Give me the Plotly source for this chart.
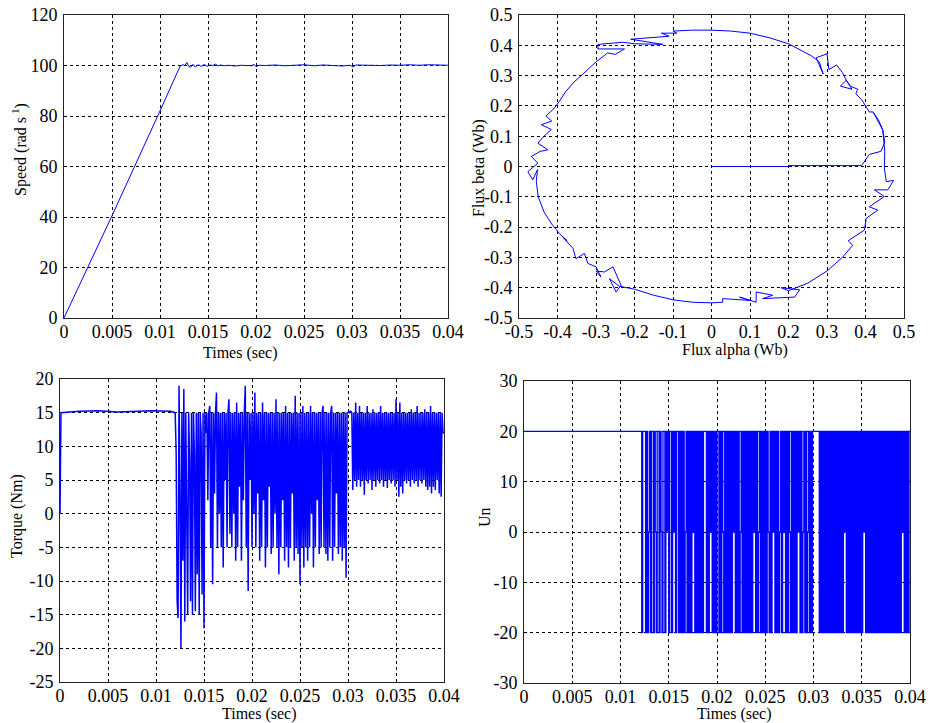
import numpy as np
import plotly.graph_objects as go

# ---------------- data ----------------
# Speed (rad/s) vs time
speed_t = [0, 0.005, 0.010, 0.0121, 0.0124, 0.0126, 0.0128, 0.0130, 0.0132, 0.0134,
           0.0137, 0.0140, 0.0143, 0.0146, 0.0149, 0.0152, 0.0155, 0.0158, 0.0160, 0.0163,
           0.0167, 0.0172, 0.0178, 0.0185, 0.0190, 0.0195, 0.0198, 0.0200, 0.0203, 0.0210,
           0.0220, 0.0230, 0.0240, 0.0250, 0.0260, 0.0270, 0.0280, 0.0290, 0.0298, 0.0301,
           0.0304, 0.0310, 0.0320, 0.0330, 0.0340, 0.0350, 0.0360, 0.0370, 0.0380, 0.0390,
           0.0400]
speed_v = [0, 40.5, 82, 99.8, 100.3, 100.0, 101.2, 99.6, 99.3, 100.4,
           99.5, 100.3, 99.6, 100.4, 99.7, 100.2, 100.0, 100.6, 99.8, 100.2,
           99.9, 100.1, 99.8, 100.1, 100.0, 99.9, 100.4, 99.5, 100.1, 100.0,
           100.2, 99.9, 100.1, 100.3, 99.9, 100.2, 100.0, 99.8, 100.1, 99.4,
           100.2, 100.1, 100.2, 100.0, 100.2, 100.1, 100.3, 100.1, 100.3, 100.2,
           100.1]

# Stator flux locus (alpha, beta) in Wb
flux_alpha = [0, 0.2, 0.2, 0.39, 0.41, 0.44,
              0.45, 0.445, 0.435, 0.42, 0.41, 0.395, 0.39, 0.375, 0.38, 0.36, 0.35, 0.365,
              0.335, 0.35, 0.34, 0.325, 0.305, 0.30, 0.272, 0.29, 0.28, 0.26, 0.2, 0.15,
              0.1, 0.05, 0, -0.05, -0.1, -0.09, -0.13, -0.11, -0.16, -0.21,
              -0.126, -0.2, -0.23, -0.295, -0.295, -0.226, -0.25, -0.27, -0.3, -0.33,
              -0.36, -0.38, -0.395, -0.41, -0.43, -0.415, -0.442, -0.416, -0.435, -0.451,
              -0.425, -0.445, -0.468, -0.451, -0.477, -0.464, -0.452, -0.455, -0.45, -0.435,
              -0.415, -0.395, -0.375, -0.385, -0.36, -0.352, -0.33, -0.321, -0.3, -0.287,
              -0.3, -0.278, -0.256, -0.235, -0.248, -0.265, -0.24, -0.2, -0.15, -0.1,
              -0.05, 0, 0.029, 0.029, 0.099, 0.073, 0.116, 0.116, 0.159, 0.133,
              0.216, 0.229, 0.181, 0.2, 0.25, 0.3, 0.34, 0.367, 0.355, 0.397,
              0.402, 0.432, 0.41, 0.449, 0.423, 0.458, 0.473, 0.454, 0.449, 0.45,
              0.445, 0.42]
flux_beta = [0, 0, 0.003, 0.003, 0.04, 0.05,
             0.08, 0.12, 0.15, 0.18, 0.18, 0.21, 0.22, 0.24, 0.255, 0.265, 0.285, 0.255,
             0.265, 0.285, 0.31, 0.335, 0.32, 0.372, 0.359, 0.305, 0.345, 0.365, 0.405, 0.425,
             0.44, 0.447, 0.45, 0.45, 0.447, 0.44, 0.44, 0.43, 0.425, 0.42,
             0.403, 0.405, 0.41, 0.403, 0.388, 0.388, 0.37, 0.375, 0.345, 0.31,
             0.275, 0.245, 0.215, 0.19, 0.167, 0.15, 0.138, 0.122, 0.1, 0.077,
             0.055, 0.05, 0.033, 0.011, -0.017, -0.044, -0.01, -0.05, -0.1, -0.15,
             -0.19, -0.221, -0.245, -0.235, -0.27, -0.304, -0.287, -0.32, -0.331, -0.365,
             -0.345, -0.348, -0.331, -0.392, -0.414, -0.37, -0.395, -0.405, -0.425, -0.44,
             -0.448, -0.45, -0.448, -0.436, -0.442, -0.431, -0.448, -0.414, -0.425, -0.436,
             -0.431, -0.407, -0.4, -0.41, -0.385, -0.345, -0.3, -0.26, -0.245, -0.21,
             -0.171, -0.144, -0.133, -0.099, -0.077, -0.077, -0.046, -0.05, -0.006, 0.05,
             0.12, 0.18]

# Electromagnetic torque (Nm): start-up part, then samples every 0.1 ms from 12 ms
torque_start_t = [0, 0.0001, 0.002, 0.004, 0.006, 0.0095, 0.0115, 0.0119]
torque_start_v = [0, 15, 15.2, 15.3, 15.1, 15.3, 15.2, 15]
sample_period = 1e-4
torque_sample_t0 = 0.012
torque_samples = [
    15, 9, -13, -15.5, 19, 2, -20, 15, -7, 18.5,        # 12 ms
    -16, 15, -3, -15, 15, 8, -13, 15, -15, 15,          # 13 ms
    9, -14.5, 15, -9, 15, -15, 15, 12, -12, 15,         # 14 ms
    -17, 15, 12, 15, 2, 15, 16, -5, 15, -10.5,          # 15 ms
    15, 3, 15, 18, -5, 15, 0, 15, -5, 15,               # 16 ms
    -8, 15, 5, 15, -5, 15, 17, -3, 15, -5,              # 17 ms
    15, 0, 15, -7, 16.5, -5, 15, 4, 15, -7,             # 18 ms
    15, 2, 15, 19, -5, 15, -11.5, 15, 5, 15,            # 19 ms
    -5, 15, 0, 18, -5, 15, 3, 15, -7, 15,               # 20 ms
    -5, 16.5, 2, 15, -8, 15, -5, 15, 4, 15,             # 21 ms
    -6, 15, -5, 15, 0, 17, -5, 15, -9, 15,              # 22 ms
    -5, 15, 2, 15, -7, 16, -5, 15, -8, 15,              # 23 ms
    -5, 15, 3, 15, -7, 17.5, -5, 15, -6, 15,            # 24 ms
    -10.5, 15, -5, 16, -8, 15, -5, 15, -7, 15,          # 25 ms
    -5, 16, 0, 15, -8, 15, -5, 15, 2, 15,               # 26 ms
    -6, 15, -5, 15, 16, -5, 15, -6, 15, -7,             # 27 ms
    15, -5, 15, 16, -7, 15, -5, 15, 3, 15,              # 28 ms
    -6, 15, -5, 15, -7, 15, -5, 15, -9.5, 15,           # 29 ms
    15, 15.2, 15, 15.2, 15, 3.5, 15, 5, 16.5, 4,        # 30 ms
    15, 5, 16, 4, 15, 5, 15, 2.8, 15, 5,                # 31 ms
    16, 4.5, 15, 5, 15, 3.5, 15.5, 5, 15, 4,            # 32 ms
    15, 5, 15, 4.5, 16, 5, 15, 4, 15, 5,                # 33 ms
    15, 3.8, 15, 5, 15, 4.5, 15, 5, 15, 4,              # 34 ms
    17, 5, 15, 2.5, 16.5, 4, 15, 3, 15, 5,              # 35 ms
    15, 4.5, 15, 5, 15, 4, 15.5, 5, 15, 4.5,            # 36 ms
    15, 5, 16, 4, 15, 5, 15, 4.5, 15, 5,                # 37 ms
    15.5, 4, 15, 3.5, 15, 4, 16, 3, 15, 4,              # 38 ms
    15, 3.5, 15, 5, 15, 3, 15, 2.5, 15, 12,             # 39 ms
    12,                                                 # 40 ms
]

# Inverter output level Un: +20 before switching, then switching pattern
# p = +20, z = 0, n = -20, one symbol per 0.1 ms starting at 12 ms
un_start_t = [0, 0.0119]
un_start_v = [20, 20]
un_levels = {"p": 20, "z": 0, "n": -20}
un_pattern = (
    "ppnpppnpnz" "pnppnpznpp" "npznppnpzp" "nppnpzpnpp"   # 12-15 ms
    "npnpnpnzpn" "pnpnpzpnpn" "pnpnpnpppn" "pnpzpnpnpn"   # 16-19 ms
    "ppnpnpznpn" "pnpnpnpzpn" "pnpnzpnpnp" "npnpnpnpzp"   # 20-23 ms
    "npnzpnpnpn" "pnpznpnpzp" "npnpnzpnpz" "pnpnpznpnp"   # 24-27 ms
    "npnpzpnpnz" "pnpnzpnpnp" "ppppppnpnp" "npnpnpnpnp"   # 28-31 ms
    "npnpnpnpnp" "npzpnpnpnp" "npnpnpnpnp" "npzpnpnpnp"   # 32-35 ms
    "npnpnpnpnp" "npnpnpnpnp" "npnpnpnpnp" "npzpnpnpnp"   # 36-39 ms
    "p"                                                   # 40 ms
)

# Tick values / labels
t_ticks = [0, 0.005, 0.01, 0.015, 0.02, 0.025, 0.03, 0.035, 0.04]
t_labels = ["0", "0.005", "0.01", "0.015", "0.02", "0.025", "0.03", "0.035", "0.04"]
speed_ticks = [0, 20, 40, 60, 80, 100, 120]
speed_labels = ["0", "20", "40", "60", "80", "100", "120"]
flux_ticks = [-0.5, -0.4, -0.3, -0.2, -0.1, 0, 0.1, 0.2, 0.3, 0.4, 0.5]
flux_labels = ["-0.5", "-0.4", "-0.3", "-0.2", "-0.1", "0", "0.1", "0.2", "0.3", "0.4", "0.5"]
torque_ticks = [-25, -20, -15, -10, -5, 0, 5, 10, 15, 20]
torque_labels = ["-25", "-20", "-15", "-10", "-5", "0", "5", "10", "15", "20"]
un_ticks = [-30, -20, -10, 0, 10, 20, 30]
un_labels = ["-30", "-20", "-10", "0", "10", "20", "30"]

# ---------------- build series ----------------
torque_dense_t = torque_sample_t0 + sample_period * np.arange(len(torque_samples))
torque_t = list(torque_start_t) + list(torque_dense_t)
torque_v = list(torque_start_v) + list(torque_samples)

un_dense_t = torque_sample_t0 + sample_period * np.arange(len(un_pattern))
un_t = list(un_start_t) + list(un_dense_t)
un_v = list(un_start_v) + [un_levels[c] for c in un_pattern]

# ---------------- figure ----------------
W, H = 930, 723
BLUE = "#0000ff"
FONT = "Liberation Serif"

fig = go.Figure()
fig.add_trace(go.Scatter(x=speed_t, y=speed_v, mode="lines",
                         line=dict(color=BLUE, width=1), xaxis="x", yaxis="y"))
fig.add_trace(go.Scatter(x=flux_alpha, y=flux_beta, mode="lines",
                         line=dict(color=BLUE, width=1), xaxis="x2", yaxis="y2"))
fig.add_trace(go.Scatter(x=torque_t, y=torque_v, mode="lines",
                         line=dict(color=BLUE, width=1.5), xaxis="x3", yaxis="y3"))
fig.add_trace(go.Scatter(x=un_t, y=un_v, mode="lines", line_shape="hv",
                         line=dict(color=BLUE, width=1.3), xaxis="x4", yaxis="y4"))


def px_dom(a, b):
    return [a / W, b / W]


def py_dom(top, bottom):
    return [1 - bottom / H, 1 - top / H]


def axis(domain, rng, tickvals, ticktext, anchor, is_x):
    return dict(domain=domain, range=rng, tickvals=tickvals, ticktext=ticktext,
                anchor=anchor, showline=True, linecolor="#222222", linewidth=1,
                mirror=True, showgrid=True, gridcolor="black", griddash="3px,3px",
                gridwidth=1, zeroline=False, ticks="",
                ticklabelstandoff=(-3 if is_x else 2),
                tickfont=dict(family=FONT, size=18, color="black"),
                automargin=False, fixedrange=True)


layout = dict(
    width=W, height=H, margin=dict(l=0, r=0, t=0, b=0),
    paper_bgcolor="white", plot_bgcolor="white", showlegend=False,
    xaxis=axis(px_dom(64, 448), [0, 0.04], t_ticks, t_labels, "y", True),
    yaxis=axis(py_dom(15, 318), [0, 120], speed_ticks, speed_labels, "x", False),
    xaxis2=axis(px_dom(519, 904), [-0.5, 0.5], flux_ticks, flux_labels, "y2", True),
    yaxis2=axis(py_dom(15, 318), [-0.5, 0.5], flux_ticks, flux_labels, "x2", False),
    xaxis3=axis(px_dom(60, 444), [0, 0.04], t_ticks, t_labels, "y3", True),
    yaxis3=axis(py_dom(379, 682), [-25, 20], torque_ticks, torque_labels, "x3", False),
    xaxis4=axis(px_dom(524, 910), [0, 0.04], t_ticks, t_labels, "y4", True),
    yaxis4=axis(py_dom(381, 683), [-30, 30], un_ticks, un_labels, "x4", False),
)
fig.update_layout(**layout)

titles = [
    ("Times (sec)", 240, 353, 0),
    ("Speed (rad s<sup> 1</sup>)", 19, 150, -90),
    ("Flux alpha (Wb)", 735, 350, 0),
    ("Flux beta (Wb)", 479, 168, -90),
    ("Times (sec)", 259, 714, 0),
    ("Torque (Nm)", 17, 516, -90),
    ("Times (sec)", 734, 714, 0),
    ("Un", 484, 517, -90),
]
for text, x, y, ang in titles:
    fig.add_annotation(text=text, x=x / W, y=1 - y / H, xref="paper", yref="paper",
                       xanchor="center", yanchor="middle", showarrow=False,
                       textangle=ang, font=dict(family=FONT, size=16, color="black"))

# the page's default body margin would shift the figure; remove it
fig.write_html("out.html", config={"displayModeBar": False},
               post_script="document.body.style.margin='0';")
